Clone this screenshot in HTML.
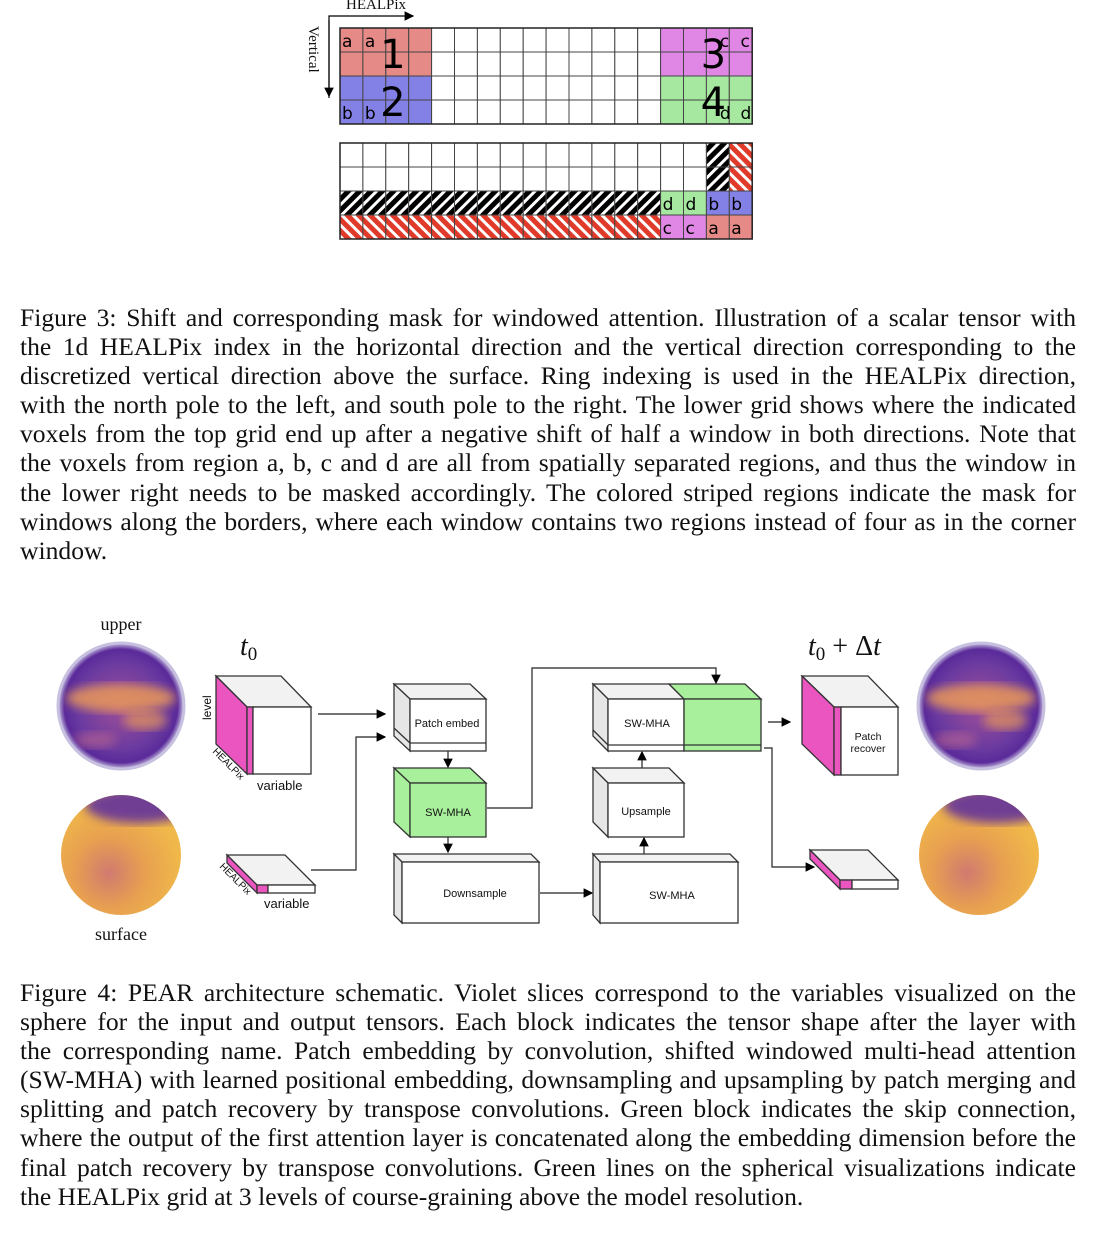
<!DOCTYPE html>
<html><head><meta charset="utf-8"><style>
body{margin:0;width:1102px;height:1250px;background:#fff;position:relative;overflow:hidden;font-family:"Liberation Serif",serif}
svg{position:absolute;left:0;top:0}
.cap{position:absolute;left:20px;width:1056px;font-size:25.6px;line-height:29.1px;color:#111}
.cap div{text-align:justify;text-align-last:justify;white-space:nowrap}
.cap div.last{text-align-last:left}
</style></head><body>
<svg id="fig" width="1102" height="1250">
<defs>
<pattern id="hb" width="8" height="8" patternUnits="userSpaceOnUse" patternTransform="rotate(45)"><rect width="8" height="8" fill="#000"/><rect width="3" height="8" fill="#fff"/></pattern>
<pattern id="hr" width="8" height="8" patternUnits="userSpaceOnUse" patternTransform="rotate(-45)"><rect width="8" height="8" fill="#e03a2a"/><rect width="3" height="8" fill="#fff"/></pattern>
<radialGradient id="up" cx="50%" cy="50%" r="50%"><stop offset="0" stop-color="#a05098"/><stop offset="0.7" stop-color="#6a3aa0"/><stop offset="0.9" stop-color="#5a2a9a"/><stop offset="1" stop-color="#c8c0e0"/></radialGradient>
<radialGradient id="sf" cx="40%" cy="65%" r="60%"><stop offset="0" stop-color="#d07a70"/><stop offset="0.5" stop-color="#e8a050"/><stop offset="1" stop-color="#f0b84a"/></radialGradient>
<filter id="bl"><feGaussianBlur stdDeviation="5"/></filter>
<clipPath id="c1"><circle cx="121" cy="706" r="58"/></clipPath>
<clipPath id="c2"><circle cx="121" cy="855" r="60"/></clipPath>
<clipPath id="c3"><circle cx="981" cy="706" r="58"/></clipPath>
<clipPath id="c4"><circle cx="979" cy="855" r="60"/></clipPath>
<marker id="ar" markerWidth="8" markerHeight="8" refX="7" refY="4" orient="auto"><path d="M0,0 L8,4 L0,8 z" fill="#000"/></marker>
</defs>
<g id="grids"></g>
<g font-family="Liberation Serif,serif" font-size="15" fill="#111">
<text x="376" y="9" text-anchor="middle">HEALPix</text>
<text transform="translate(309,26) rotate(90)">Vertical</text>
</g>
<path d="M329,98 V16 H413" fill="none" stroke="#000" stroke-width="1.2" marker-end="url(#ar)"/>
<path d="M329,20 V96" fill="none" stroke="#000" stroke-width="1.2" marker-end="url(#ar)"/>

<g stroke="#333" stroke-width="1.3" font-family="Liberation Sans,sans-serif" font-size="11">
<g><circle cx="121" cy="706" r="63" fill="url(#up)" stroke="#c8c0e0" stroke-width="3"/><g clip-path="url(#c1)" stroke="none"><ellipse cx="121" cy="698" rx="55" ry="14" fill="#e89858" filter="url(#bl)" opacity="0.85"/><ellipse cx="145" cy="720" rx="22" ry="10" fill="#e89858" filter="url(#bl)" opacity="0.7"/><ellipse cx="95" cy="740" rx="22" ry="8" fill="#c06890" filter="url(#bl)" opacity="0.6"/></g></g>
<g><circle cx="121" cy="855" r="60" fill="url(#sf)" stroke="none"/><g clip-path="url(#c2)" stroke="none"><ellipse cx="140" cy="805" rx="55" ry="18" fill="#5a2aa0" filter="url(#bl)" opacity="0.85"/></g></g>
<g><circle cx="981" cy="706" r="63" fill="url(#up)" stroke="#c8c0e0" stroke-width="3"/><g clip-path="url(#c3)" stroke="none"><ellipse cx="981" cy="698" rx="55" ry="14" fill="#e89858" filter="url(#bl)" opacity="0.85"/><ellipse cx="1005" cy="720" rx="22" ry="10" fill="#e89858" filter="url(#bl)" opacity="0.7"/><ellipse cx="955" cy="740" rx="22" ry="8" fill="#c06890" filter="url(#bl)" opacity="0.6"/></g></g>
<g><circle cx="979" cy="855" r="60" fill="url(#sf)" stroke="none"/><g clip-path="url(#c4)" stroke="none"><ellipse cx="998" cy="805" rx="55" ry="18" fill="#5a2aa0" filter="url(#bl)" opacity="0.85"/></g></g>
<g stroke="none" fill="#111" font-family="Liberation Serif,serif" font-size="18">
<text x="121" y="630" text-anchor="middle">upper</text>
<text x="121" y="940" text-anchor="middle">surface</text>
<text x="240" y="655" font-size="28" font-style="italic">t<tspan font-style="normal" font-size="19" dy="5">0</tspan></text>
<text x="808" y="655" font-size="28" font-style="italic">t<tspan font-style="normal" font-size="19" dy="5">0</tspan><tspan dy="-5" font-style="normal"> + Δ</tspan>t</text>
</g>
<g>
<path d="M216,676 L281,676 L311,707 L247,707 Z" fill="#f2f2f2"/>
<path d="M216,676 L247,707 L247,774 L216,744 Z" fill="#ea55c0"/>
<rect x="247" y="707" width="6" height="67" fill="#ea55c0"/>
<rect x="253" y="707" width="58" height="67" fill="#fff"/>
</g>
<g>
<path d="M227,855 L285,855 L315,885 L257,885 Z" fill="#f2f2f2"/>
<path d="M227,855 L257,885 L257,893 L227,863 Z" fill="#ea55c0"/>
<rect x="257" y="885" width="11" height="8" fill="#ea55c0"/>
<rect x="268" y="885" width="47" height="8" fill="#fff"/>
</g>
<g stroke="none" fill="#111" font-size="13">
<text transform="translate(211,720) rotate(-90)" font-size="12">level</text>
<text transform="translate(212,752) rotate(45)" font-size="10">HEALPix</text>
<text x="257" y="790">variable</text>
<text transform="translate(219,867) rotate(45)" font-size="10">HEALPix</text>
<text x="264" y="908">variable</text>
</g>
<g fill="none" stroke="#222" stroke-width="1.2">
<path d="M318,714 H385" marker-end="url(#ar)"/>
<path d="M311,870 H356 V737 H385" marker-end="url(#ar)"/>
<path d="M448,751 V767" marker-end="url(#ar)"/>
<path d="M448,837 V852" marker-end="url(#ar)"/>
<path d="M487,808 H532 V668 H716 V683" marker-end="url(#ar)"/>
<path d="M540,893 H592" marker-end="url(#ar)"/>
<path d="M644,854 V838" marker-end="url(#ar)"/>
<path d="M642,768 V752" marker-end="url(#ar)"/>
<path d="M768,722 H790" marker-end="url(#ar)"/>
<path d="M764,748 H772 V867 H814" marker-end="url(#ar)"/>
</g>
<g>
<path d="M394,684 L470,684 L486,699 L410,699 Z" fill="#f2f2f2"/>
<path d="M394,684 L410,699 L410,751 L394,736 Z" fill="#e6e6e6"/>
<rect x="410" y="699" width="76" height="52" fill="#fff"/><path d="M410,743 H486 M394,728 L410,743"/>
<text x="447" y="727" text-anchor="middle" stroke="none" fill="#111">Patch embed</text>
</g>
<g>
<path d="M394,768 L470,768 L486,783 L410,783 Z" fill="#a8f09c"/>
<path d="M394,768 L410,783 L410,837 L394,822 Z" fill="#a8f09c"/>
<rect x="410" y="783" width="76" height="54" fill="#a8f09c"/>
<text x="448" y="816" text-anchor="middle" stroke="none" fill="#111">SW-MHA</text>
</g>
<g>
<path d="M394,854 L531,854 L539,862 L402,862 Z" fill="#f2f2f2"/>
<path d="M394,854 L402,862 L402,923 L394,915 Z" fill="#e6e6e6"/>
<rect x="402" y="862" width="137" height="61" fill="#fff"/>
<text x="475" y="897" text-anchor="middle" stroke="none" fill="#111">Downsample</text>
</g>
<g>
<path d="M593,854 L730,854 L738,862 L600,862 Z" fill="#f2f2f2"/>
<path d="M593,854 L600,862 L600,923 L593,915 Z" fill="#e6e6e6"/>
<rect x="600" y="862" width="138" height="61" fill="#fff"/>
<text x="672" y="899" text-anchor="middle" stroke="none" fill="#111">SW-MHA</text>
</g>
<g>
<path d="M593,768 L669,768 L684,783 L608,783 Z" fill="#f2f2f2"/>
<path d="M593,768 L608,783 L608,837 L593,822 Z" fill="#e6e6e6"/>
<rect x="608" y="783" width="76" height="54" fill="#fff"/>
<text x="646" y="815" text-anchor="middle" stroke="none" fill="#111">Upsample</text>
</g>
<g>
<path d="M593,684 L669,684 L684,699 L608,699 Z" fill="#f2f2f2"/>
<path d="M669,684 L745,684 L761,699 L684,699 Z" fill="#a8f09c"/>
<path d="M593,684 L608,699 L608,751 L593,736 Z" fill="#e6e6e6"/>
<rect x="608" y="699" width="76" height="52" fill="#fff"/>
<rect x="684" y="699" width="77" height="52" fill="#a8f09c"/>
<path d="M608,745 H761 M593,730 L608,745"/>
<text x="647" y="727" text-anchor="middle" stroke="none" fill="#111">SW-MHA</text>
</g>
<g>
<path d="M802,676 L868,676 L898,707 L834,707 Z" fill="#f2f2f2"/>
<path d="M802,676 L834,707 L834,775 L802,744 Z" fill="#ea55c0"/>
<rect x="834" y="707" width="7" height="68" fill="#ea55c0"/>
<rect x="841" y="707" width="57" height="68" fill="#fff"/>
<text x="868" y="740" text-anchor="middle" stroke="none" fill="#111" font-size="10.5">Patch</text>
<text x="868" y="752" text-anchor="middle" stroke="none" fill="#111" font-size="10.5">recover</text>
</g>
<g>
<path d="M810,850 L868,850 L898,880 L840,880 Z" fill="#f2f2f2"/>
<path d="M810,850 L840,880 L840,889 L810,859 Z" fill="#ea55c0"/>
<rect x="840" y="880" width="12" height="9" fill="#ea55c0"/>
<rect x="852" y="880" width="46" height="9" fill="#fff"/>
</g>
</g>
</svg>

<div class="cap" style="top:303px">
<div>Figure 3: Shift and corresponding mask for windowed attention. Illustration of a scalar tensor with</div>
<div>the 1d HEALPix index in the horizontal direction and the vertical direction corresponding to the</div>
<div>discretized vertical direction above the surface. Ring indexing is used in the HEALPix direction,</div>
<div>with the north pole to the left, and south pole to the right. The lower grid shows where the indicated</div>
<div>voxels from the top grid end up after a negative shift of half a window in both directions. Note that</div>
<div>the voxels from region a, b, c and d are all from spatially separated regions, and thus the window in</div>
<div>the lower right needs to be masked accordingly. The colored striped regions indicate the mask for</div>
<div>windows along the borders, where each window contains two regions instead of four as in the corner</div>
<div class="last">window.</div>
</div>
<div class="cap" style="top:978px">
<div>Figure 4: PEAR architecture schematic. Violet slices correspond to the variables visualized on the</div>
<div>sphere for the input and output tensors. Each block indicates the tensor shape after the layer with</div>
<div>the corresponding name. Patch embedding by convolution, shifted windowed multi-head attention</div>
<div>(SW-MHA) with learned positional embedding, downsampling and upsampling by patch merging and</div>
<div>splitting and patch recovery by transpose convolutions. Green block indicates the skip connection,</div>
<div>where the output of the first attention layer is concatenated along the embedding dimension before the</div>
<div>final patch recovery by transpose convolutions. Green lines on the spherical visualizations indicate</div>
<div class="last">the HEALPix grid at 3 levels of course-graining above the model resolution.</div>
</div>

<script>
// cell fills: W white, R red, B blue, M magenta, G green, K black hatch, H red hatch
const topRows = [
 "RRRRWWWWWWWWWWMMMM",
 "RRRRWWWWWWWWWWMMMM",
 "BBBBWWWWWWWWWWGGGG",
 "BBBBWWWWWWWWWWGGGG"];
const botRows = [
 "WWWWWWWWWWWWWWWWKH",
 "WWWWWWWWWWWWWWWWKH",
 "KKKKKKKKKKKKKKGGBB",
 "HHHHHHHHHHHHHHMMRR"];
const topLetters = [[0,0,'a'],[0,1,'a'],[3,0,'b'],[3,1,'b'],[0,16.5,'c'],[0,17.4,'c'],[3,16.5,'d'],[3,17.4,'d']];
const botLetters = [[2,14,'d'],[2,15,'d'],[2,16,'b'],[2,17,'b'],[3,14,'c'],[3,15,'c'],[3,16,'a'],[3,17,'a']];
const bigNums = [[1,1.75,'1'],[3,1.75,'2'],[1,15.75,'3'],[3,15.75,'4']];
const fills = {W:'#fff',R:'#e58a86',B:'#8381e6',M:'#e087e6',G:'#a6e8a0',K:'url(#hb)',H:'url(#hr)'};
const NS='http://www.w3.org/2000/svg';
const g=document.getElementById('grids');
const x0=340, cw=22.9, ch=24;
function grid(rows, y0, letters, name){
  const gg=document.createElementNS(NS,'g');
  
  
  rows.forEach((r,i)=>{[...r].forEach((c,j)=>{
    const re=document.createElementNS(NS,'rect');
    
    
    re.setAttribute('x',x0+j*cw);re.setAttribute('y',y0+i*ch);
    re.setAttribute('width',cw);re.setAttribute('height',ch);
    re.setAttribute('fill',fills[c]);re.setAttribute('stroke','#444');re.setAttribute('stroke-width','1');
    gg.appendChild(re);});});
  const b=document.createElementNS(NS,'rect');
  b.setAttribute('x',x0);b.setAttribute('y',y0);b.setAttribute('width',cw*18);b.setAttribute('height',ch*4);
  b.setAttribute('fill','none');b.setAttribute('stroke','#222');b.setAttribute('stroke-width','1.5');
  gg.appendChild(b);
  letters.forEach(([i,j,t])=>{
    const tx=document.createElementNS(NS,'text');
    
    
    tx.setAttribute('x',x0+j*cw+2);tx.setAttribute('y',y0+i*ch+ch-5);
    tx.setAttribute('font-family','DejaVu Sans,sans-serif');tx.setAttribute('font-size','17');
    tx.textContent=t;gg.appendChild(tx);});
  g.appendChild(gg);
}
grid(topRows,28,topLetters,'top-grid');
grid(botRows,143,botLetters,'shifted-grid');
bigNums.forEach(([i,j,t])=>{
  const tx=document.createElementNS(NS,'text');
  
  
  tx.setAttribute('x',x0+j*cw);tx.setAttribute('y',28+i*ch+16);
  tx.setAttribute('font-family','DejaVu Sans,sans-serif');tx.setAttribute('font-size','40');
  tx.textContent=t;g.appendChild(tx);});
</script>
</body></html>
